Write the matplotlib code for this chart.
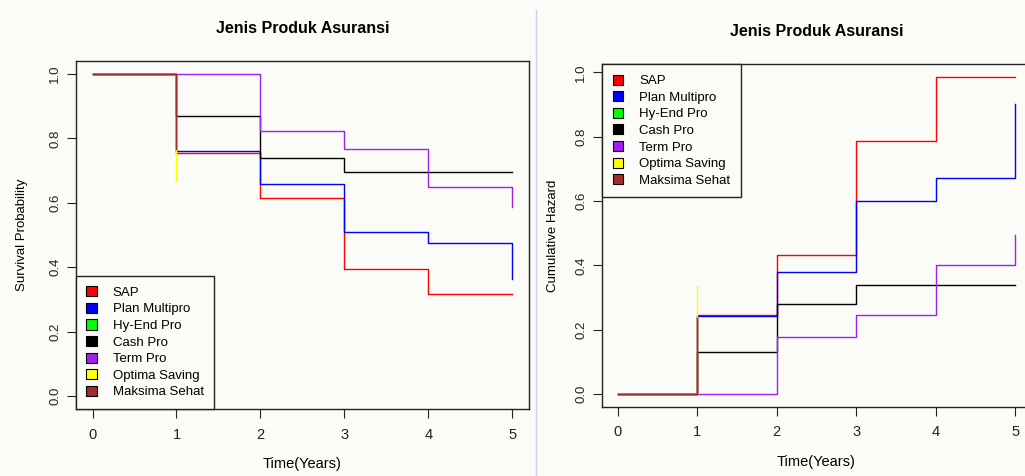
import matplotlib
matplotlib.use('Agg')
import matplotlib.pyplot as plt
from matplotlib.patches import Patch
from matplotlib.lines import Line2D

names = ['SAP', 'Plan Multipro', 'Hy-End Pro', 'Cash Pro', 'Term Pro',
         'Optima Saving', 'Maksima Sehat']
colors = ['#ff0000', '#0000ff', '#00ff00', '#000000', '#a020f0', '#ffff00', '#a52a2a']

years = [0, 1, 2, 3, 4, 5]
short_years = [0, 1]

# survival (Kaplan-Meier) per product
surv_sap = [1.0, 0.755, 0.615, 0.395, 0.316, 0.316]
surv_multipro = [1.0, 0.761, 0.657, 0.510, 0.476, 0.364]
surv_hyend = [1.0, 1.0]
surv_cash = [1.0, 0.868, 0.738, 0.695, 0.695, 0.695]
surv_term = [1.0, 1.0, 0.823, 0.766, 0.649, 0.587]
surv_optima = [1.0, 0.667]
surv_maksima = [1.0, 0.767]

# cumulative hazard per product
haz_sap = [0.0, 0.245, 0.431, 0.788, 0.987, 0.987]
haz_multipro = [0.0, 0.241, 0.379, 0.599, 0.672, 0.902]
haz_hyend = [0.0, 0.0]
haz_cash = [0.0, 0.131, 0.279, 0.338, 0.338, 0.338]
haz_term = [0.0, 0.0, 0.177, 0.247, 0.400, 0.493]
haz_optima = [0.0, 0.335]
haz_maksima = [0.0, 0.235]

surv = [surv_sap, surv_multipro, surv_hyend, surv_cash, surv_term, surv_optima, surv_maksima]
haz = [haz_sap, haz_multipro, haz_hyend, haz_cash, haz_term, haz_optima, haz_maksima]

plt.rcParams['font.family'] = ['Liberation Sans', 'DejaVu Sans']

bg = '#fbfbf7'
fig = plt.figure(figsize=(10.25, 4.76), dpi=100, facecolor=bg)

ax1 = fig.add_axes([0.0739, 0.1408, 0.4422, 0.7310])
ax2 = fig.add_axes([0.5873, 0.1456, 0.4186, 0.7199])


def style(ax, ylab, ypad):
    ax.set_facecolor(bg)
    ax.set_xticks([0, 1, 2, 3, 4, 5])
    ax.set_yticks([0.0, 0.2, 0.4, 0.6, 0.8, 1.0])
    ax.set_yticklabels(['0.0', '0.2', '0.4', '0.6', '0.8', '1.0'],
                       rotation=90, va='center', fontsize=9.5, color='#222222')
    ax.tick_params(direction='out', length=6.5, width=0.8, colors='#222222')
    ax.tick_params(axis='y', pad=4)
    ax.tick_params(axis='x', pad=7, labelsize=10.5)
    for s in ax.spines.values():
        s.set_linewidth(1.0)
        s.set_color('#222222')
    ax.set_xlabel('Time(Years)', fontsize=10.5, labelpad=11)
    ax.set_ylabel(ylab, fontsize=9.5, labelpad=ypad)
    ax.set_title('Jenis Produk Asuransi', fontweight='bold', fontsize=11.5, pad=20)


for vals, c in zip(surv, colors):
    x = years if len(vals) == len(years) else short_years
    ax1.step(x, vals, where='post', color=c, lw=1.0)
for vals, c in zip(haz, colors):
    x = years if len(vals) == len(years) else short_years
    ax2.step(x, vals, where='post', color=c, lw=1.0)

ax1.set_xlim(-0.2, 5.2)
ax1.set_ylim(-0.04, 1.04)
ax2.set_xlim(-0.2, 5.2)
ax2.set_ylim(-0.0395, 1.026)

style(ax1, 'Survival Probability', 15)
style(ax2, 'Cumulative Hazard', 12)

handles = [Patch(facecolor=c, edgecolor='black', lw=0.8) for c in colors]
for ax, loc in ((ax1, 'lower left'), (ax2, 'upper left')):
    leg = ax.legend(handles, names, loc=loc, borderaxespad=0, fancybox=False,
                    frameon=True, edgecolor='#222222', facecolor=bg, framealpha=1,
                    fontsize=9.5, handlelength=0.8, handleheight=0.8,
                    handletextpad=1.2, labelspacing=0.3, borderpad=0.8)
    leg.get_frame().set_linewidth(1.0)

fig.add_artist(Line2D([536 / 1025, 536 / 1025], [0, 1 - 10 / 476],
                      color='#c5d5ea', lw=1.0))

fig.savefig('out.png', dpi=100, facecolor=bg)
